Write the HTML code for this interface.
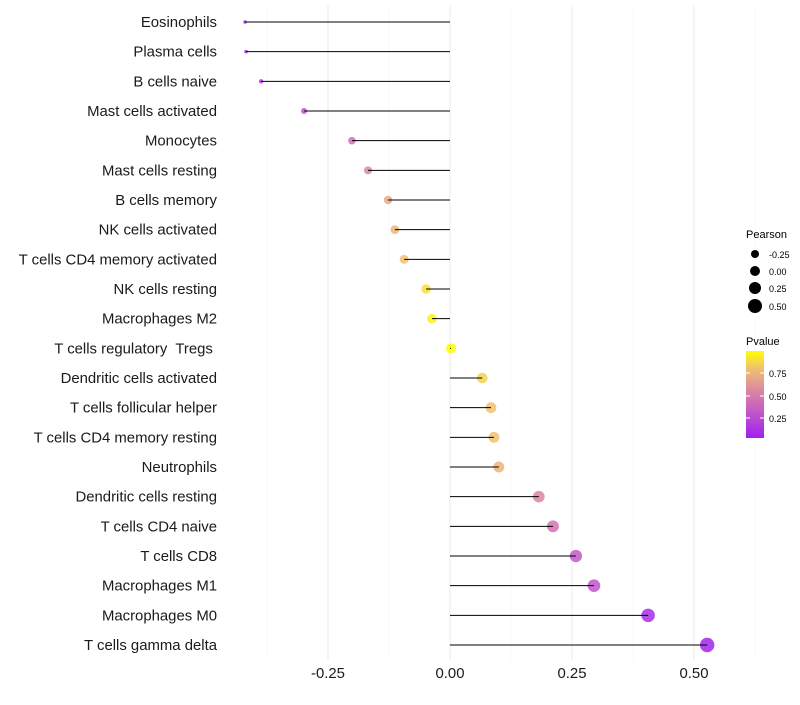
<!DOCTYPE html>
<html><head><meta charset="utf-8"><style>
body{margin:0;background:#fff;font-family:"Liberation Sans",sans-serif}
</style></head><body>
<svg id="c" width="800" height="700" xmlns="http://www.w3.org/2000/svg" font-family="Liberation Sans, sans-serif">
<defs><linearGradient id="pg" x1="0" y1="1" x2="0" y2="0">
<stop offset="0" stop-color="#A020F0"/><stop offset="0.3" stop-color="#C258C8"/><stop offset="0.55" stop-color="#DC88A0"/><stop offset="0.8" stop-color="#F0C070"/><stop offset="1" stop-color="#FFFF00"/></linearGradient></defs>
<g id="grid"></g>
<g id="dots"></g>
<g id="marks"></g>
<g id="ylab"></g>
<g id="xlab"></g>
<g>
<text x="746" y="238" font-size="11">Pearson</text>
<circle cx="755" cy="254" r="4" fill="#000"/><text x="769" y="258" font-size="9">-0.25</text>
<circle cx="755" cy="271" r="5" fill="#000"/><text x="769" y="275" font-size="9">0.00</text>
<circle cx="755" cy="288" r="6" fill="#000"/><text x="769" y="292" font-size="9">0.25</text>
<circle cx="755" cy="306" r="7" fill="#000"/><text x="769" y="310" font-size="9">0.50</text>
</g>
<g>
<text x="746" y="345" font-size="11">Pvalue</text>
<rect x="746" y="351" width="18" height="87" fill="url(#pg)"/>
<line x1="746" y1="373" x2="750" y2="373" stroke="#fff"/><line x1="760" y1="373" x2="764" y2="373" stroke="#fff"/>
<line x1="746" y1="396" x2="750" y2="396" stroke="#fff"/><line x1="760" y1="396" x2="764" y2="396" stroke="#fff"/>
<line x1="746" y1="418" x2="750" y2="418" stroke="#fff"/><line x1="760" y1="418" x2="764" y2="418" stroke="#fff"/>
<text x="769" y="377" font-size="9">0.75</text><text x="769" y="400" font-size="9">0.50</text><text x="769" y="422" font-size="9">0.25</text>
</g>
</svg>
<script>
const cells=["Eosinophils","Plasma cells","B cells naive","Mast cells activated","Monocytes","Mast cells resting","B cells memory","NK cells activated","T cells CD4 memory activated","NK cells resting","Macrophages M2","T cells regulatory  Tregs ","Dendritic cells activated","T cells follicular helper","T cells CD4 memory resting","Neutrophils","Dendritic cells resting","T cells CD4 naive","T cells CD8","Macrophages M1","Macrophages M0","T cells gamma delta"];
const pearson=[-0.42,-0.418,-0.387,-0.299,-0.201,-0.168,-0.127,-0.113,-0.094,-0.049,-0.037,0.002,0.066,0.084,0.090,0.100,0.182,0.211,0.258,0.295,0.406,0.527];
const pvalue=[0.08,0.09,0.15,0.3,0.45,0.55,0.7,0.75,0.8,0.9,0.95,0.99,0.85,0.8,0.8,0.75,0.55,0.45,0.32,0.3,0.1,0.05];
const xTicks=[-0.25,0,0.25,0.5];
const xTickLabels=["-0.25","0.00","0.25","0.50"];
const NS="http://www.w3.org/2000/svg";
const X=v=>450+v*488, Y=i=>22+i*(623/21);
function mk(t,a,p){const e=document.createElementNS(NS,t);for(const k in a)e.setAttribute(k,a[k]);p.appendChild(e);return e;}
const stops=[[0,[160,32,240]],[0.3,[194,88,200]],[0.55,[220,136,160]],[0.8,[240,192,112]],[1,[255,255,0]]];
function col(p){const t=Math.max(0,Math.min(1,(p-0.03)/0.96));for(let i=1;i<stops.length;i++){if(t<=stops[i][0]){const a=stops[i-1],b=stops[i],f=(t-a[0])/(b[0]-a[0]);return "rgb("+a[1].map((c,j)=>Math.round(c+(b[1][j]-c)*f)).join(",")+")";}}return "rgb(255,255,0)";}
const g=document.getElementById('grid');
for(let v=-0.375;v<=0.625;v+=0.125){const maj=Math.abs((v/0.25)%1)<1e-6;const l=mk('line',{x1:X(v),x2:X(v),y1:5,y2:660,stroke:maj?'#ebebeb':'#f4f4f4','stroke-width':maj?1:0.6},g);

}
const m=document.getElementById('marks'),dg=document.getElementById('dots'),yl=document.getElementById('ylab'),xl=document.getElementById('xlab');
cells.forEach((c,i)=>{const y=Y(i);
const r=Math.sqrt(Math.max(1,24.8+51.5*pearson[i]));
const d=mk('circle',{cx:X(pearson[i]),cy:y,r:r,fill:col(pvalue[i]),'fill-opacity':0.85},dg);


const s=mk('line',{x1:X(0),x2:X(pearson[i]),y1:y,y2:y,stroke:'#000','stroke-width':1},m);


const t=mk('text',{x:217,y:y+5,'text-anchor':'end','font-size':14.9,fill:'#1a1a1a','xml:space':'preserve'},yl);t.textContent=c;
t.style.whiteSpace='pre';


});
xTicks.forEach((v,i)=>{const t=mk('text',{x:X(v),y:678,'text-anchor':'middle','font-size':14.9,fill:'#1a1a1a'},xl);t.textContent=xTickLabels[i];

});
</script>
</body></html>
